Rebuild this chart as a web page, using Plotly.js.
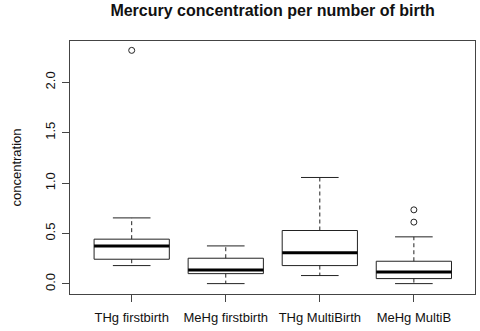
<!DOCTYPE html>
<html>
<head>
<meta charset="utf-8" />
<script src="https://cdn.plot.ly/plotly-3.0.1.min.js"></script>
<style>
  body { margin: 0; background: #fff; }
  #plot { width: 480px; height: 331px; }
</style>
</head>
<body>
<div id="plot"></div>
<script>
// values
const groups = ['THg firstbirth', 'MeHg firstbirth', 'THg MultiBirth', 'MeHg MultiB'];
const lowerWhisker = [0.182, 0.003, 0.083, 0.003];
const q1 = [0.245, 0.102, 0.182, 0.053];
const median = [0.377, 0.139, 0.308, 0.119];
const q3 = [0.444, 0.255, 0.530, 0.225];
const upperWhisker = [0.655, 0.377, 1.056, 0.467];
const outliers = [[2.317], [], [], [0.735, 0.613]];

const yTicks = [0, 0.5, 1, 1.5, 2];
const yTickText = ['0.0', '0.5', '1.0', '1.5', '2.0'];

const half = 0.4;   // half box width
const cap = 0.2;    // half whisker cap width

// build segment lists, separated by nulls
const boxX = [], boxY = [], medX = [], medY = [], whX = [], whY = [], capX = [], capY = [];
const outX = [], outY = [];
groups.forEach(function (g, i) {
  const c = i + 1;
  boxX.push(c - half, c + half, c + half, c - half, c - half, null);
  boxY.push(q1[i], q1[i], q3[i], q3[i], q1[i], null);
  medX.push(c - half, c + half, null);
  medY.push(median[i], median[i], null);
  whX.push(c, c, null, c, c, null);
  whY.push(q3[i], upperWhisker[i], null, q1[i], lowerWhisker[i], null);
  capX.push(c - cap, c + cap, null, c - cap, c + cap, null);
  capY.push(upperWhisker[i], upperWhisker[i], null, lowerWhisker[i], lowerWhisker[i], null);
  outliers[i].forEach(function (v) { outX.push(c); outY.push(v); });
});

const lineCol = '#222';
const traces = [
  { x: whX, y: whY, mode: 'lines', line: { color: lineCol, width: 1, dash: '4px,3px' }, hoverinfo: 'skip' },
  { x: capX, y: capY, mode: 'lines', line: { color: lineCol, width: 1 }, hoverinfo: 'skip' },
  { x: boxX, y: boxY, mode: 'lines', line: { color: lineCol, width: 1 }, hoverinfo: 'skip' },
  { x: medX, y: medY, mode: 'lines', line: { color: '#000', width: 3 }, hoverinfo: 'skip' },
  { x: outX, y: outY, mode: 'markers',
    marker: { symbol: 'circle-open', size: 6, color: lineCol, line: { width: 1 } } }
];

const layout = {
  width: 480, height: 331,
  margin: { l: 70, r: 5, t: 41, b: 37 },
  showlegend: false,
  paper_bgcolor: '#fff', plot_bgcolor: '#fff',
  font: { family: 'Liberation Sans, Arial, sans-serif', size: 13, color: '#111' },
  title: {
    text: '<b>Mercury concentration per number of birth</b>',
    font: { size: 16, color: '#111' },
    x: 0.568, xanchor: 'center', y: 0.97, yanchor: 'middle', yref: 'container'
  },
  xaxis: {
    range: [0.344, 4.65],
    tickvals: [1, 2, 3, 4], ticktext: groups,
    ticks: 'outside', ticklen: 7, tickcolor: '#444', ticklabelstandoff: 4,
    showgrid: false, zeroline: false,
    showline: true, mirror: true, linecolor: '#444', linewidth: 1
  },
  yaxis: {
    range: [-0.1, 2.41],
    tickvals: yTicks, ticktext: yTickText, tickangle: -90,
    ticks: 'outside', ticklen: 7, tickcolor: '#444', ticklabelstandoff: 2,
    showgrid: false, zeroline: false,
    showline: true, mirror: true, linecolor: '#444', linewidth: 1,
    title: { text: 'concentration', standoff: 18, font: { size: 13 } }
  }
};

Plotly.newPlot('plot', traces, layout, { displayModeBar: false, staticPlot: true });
</script>
</body>
</html>
